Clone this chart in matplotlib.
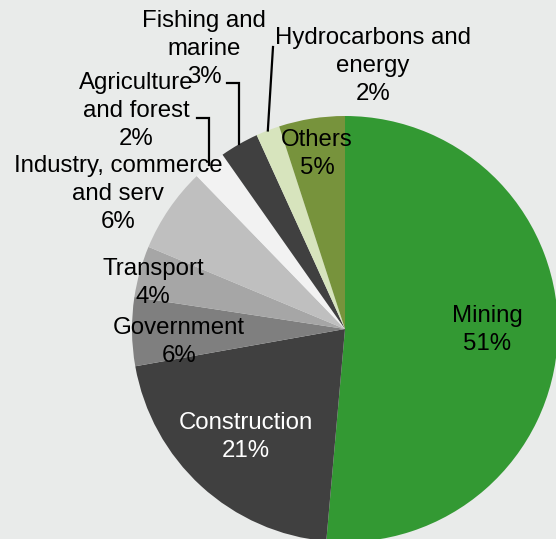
import numpy as np
import matplotlib.pyplot as plt

# data read off the reference (wedge sizes measured from the slice edges,
# label texts as printed on the chart)
sectors = ['Mining', 'Construction', 'Government', 'Transport',
           'Industry, commerce\nand serv', 'Agriculture\nand forest',
           'Fishing and\nmarine', 'Hydrocarbons and\nenergy', 'Others']
shares = [51.4, 20.8, 5.2, 3.9, 6.45, 2.5, 2.95, 1.8, 5.0]
pct_text = ['51%', '21%', '6%', '4%', '6%', '2%', '3%', '2%', '5%']
colors = ['#339933', '#404040', '#7f7f7f', '#a6a6a6', '#bfbfbf',
          '#f2f2f2', '#404040', '#d7e4bd', '#77933c']

# layout, in pixels of the 556x539 picture (y measured from top)
W, H = 556, 539
cx, cy, R = 345, 329, 213
label_pos = [(487, 330), (246, 437), (179, 342), (153, 283), (118, 194),
             (136, 111), (204, 49), (373, 66), (317, 154)]
label_col = ['black', 'white'] + ['black'] * 7
# leader lines: index -> start point of the line next to its label
leaders = {5: ((197, 118), 'elbow'), 6: ((227, 83), 'elbow'),
           7: ((273, 47), 'straight')}

plt.rcParams['font.family'] = ['Liberation Sans', 'DejaVu Sans']
bg = '#e9ebea'

fig = plt.figure(figsize=(W / 100, H / 100), dpi=100, facecolor=bg)
ax = fig.add_axes([0, 0, 1, 1])
ax.set_facecolor(bg)

ax.pie(shares, colors=colors, startangle=90, counterclock=False,
       center=(cx, H - cy), radius=R, wedgeprops=dict(linewidth=0))

for i, name in enumerate(sectors):
    x, y = label_pos[i]
    ax.text(x, H - y, f'{name}\n{pct_text[i]}', ha='center', va='center',
            fontsize=17.3, color=label_col[i], linespacing=1.38)

# leader lines end on the edge of their wedge
total = sum(shares)
cum = np.cumsum([0] + shares[:-1])
for i, (start, kind) in leaders.items():
    theta = np.deg2rad(90 - 360 * (cum[i] + shares[i] / 2) / total)
    ex = cx + R * np.cos(theta)
    ey = H - cy + R * np.sin(theta)
    sx, sy = start[0], H - start[1]
    if kind == 'elbow':
        xs, ys = [sx, ex, ex], [sy, sy, ey]
    else:
        xs, ys = [sx, ex], [sy, ey]
    ax.plot(xs, ys, color='black', linewidth=1.6, solid_joinstyle='miter')

ax.set_xlim(0, W)
ax.set_ylim(0, H)
ax.set_aspect('equal')
ax.axis('off')

fig.savefig('out.png', dpi=100, facecolor=bg)
